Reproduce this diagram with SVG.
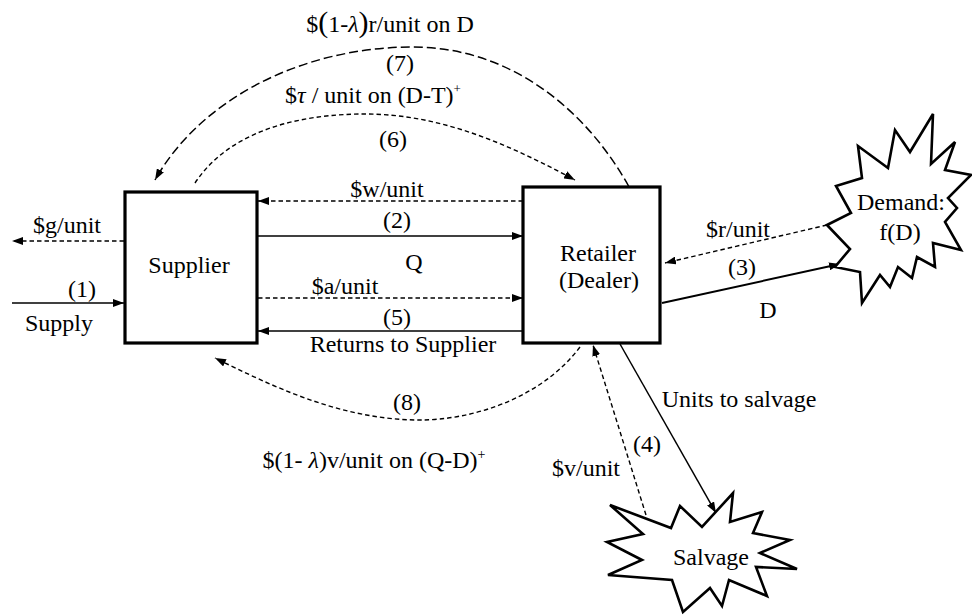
<svg xmlns="http://www.w3.org/2000/svg" width="972" height="615" viewBox="0 0 972 615">
<style>
text{font-family:"Liberation Serif","Times New Roman",serif;font-size:24px;fill:#000;text-anchor:middle}
.box{fill:#fff;stroke:#000;stroke-width:3.2}
.star{fill:#fff;stroke:#000;stroke-width:2.6;stroke-linejoin:miter}
.ln{fill:none;stroke:#000;stroke-width:1.5}
.ds{fill:none;stroke:#000;stroke-width:1.4;stroke-dasharray:4.5,3}
.dl{fill:none;stroke:#000;stroke-width:1.5;stroke-dasharray:9,4}
</style>
<defs>
<marker id="ah" viewBox="0 0 11 8" refX="11" refY="4" markerWidth="11" markerHeight="8" orient="auto" markerUnits="userSpaceOnUse">
<path d="M0,0 L11,4 L0,8 z" fill="#000"/>
</marker>
</defs>

<g id="connectors">
<path class="dl" d="M635,198 C590,110 510,46 410,47 C300,48 200,100 155,180" marker-end="url(#ah)"/>
<path class="ds" d="M195,183 C230,130 300,114 365,114 C445,114 515,148 575,180" marker-end="url(#ah)"/>
<path class="ds" d="M580,347 C540,400 470,420 420,420 C340,420 270,385 215,358" marker-end="url(#ah)"/>
<path class="ds" d="M523,201 L258,201" marker-end="url(#ah)"/>
<path class="ln" d="M258,236 L523,236" marker-end="url(#ah)"/>
<path class="ds" d="M258,298 L523,298" marker-end="url(#ah)"/>
<path class="ln" d="M523,331 L258,331" marker-end="url(#ah)"/>
<path class="ds" d="M124,241 L12,241" marker-end="url(#ah)"/>
<path class="ln" d="M12,303 L124,303" marker-end="url(#ah)"/>
<path class="ds" d="M827,225 L665,263" marker-end="url(#ah)"/>
<path class="ln" style="stroke-width:2" d="M662,303 L840,264" marker-end="url(#ah)"/>
<path class="ln" d="M620,344 L716,513" marker-end="url(#ah)"/>
<path class="ds" d="M646,515 L593,345" marker-end="url(#ah)"/>
</g>

<g id="supplier">
<rect class="box" x="125" y="192" width="132" height="151"/>
<text x="189" y="273">Supplier</text>
</g>

<g id="retailer">
<rect class="box" x="523" y="187" width="137" height="156"/>
<text x="598" y="261">Retailer</text>
<text x="599" y="288">(Dealer)</text>
</g>

<g id="demand">
<polygon class="star" points="827,225 851,213 836,186 862,178 858,146 888,168 895,130 910,152 933,114 931,164 955,142 945,170 971,175 948,198 957,208 945,222 961,250 933,243 935,267 917,257 912,278 898,267 890,287 880,275 862,303 860,272 835,267 850,249"/>
<text x="901" y="210">Demand:</text>
<text x="900" y="240">f(D)</text>
</g>

<g id="salvage">
<polygon class="star" points="610,505 671,528 680,506 702,527 733,493 730,522 762,512 753,533 790,540 760,553 797,569 756,567 767,596 729,580 722,606 710,588 683,612 672,580 608,575 642,560 607,542 643,534"/>
<text x="711" y="565">Salvage</text>
</g>

<g id="labels">
<text x="390" y="32">$<tspan font-size="30">(</tspan>1-<tspan font-style="italic">λ</tspan><tspan font-size="30">)</tspan>r/unit on D</text>
<text x="400" y="71">(7)</text>
<text x="373" y="103" font-size="22">$<tspan font-style="italic">τ</tspan> / unit on (D-T)<tspan font-size="13" dy="-10">+</tspan></text>
<text x="393" y="147">(6)</text>
<text x="387" y="197">$w/unit</text>
<text x="397" y="228">(2)</text>
<text x="414" y="270">Q</text>
<text x="345" y="294">$a/unit</text>
<text x="397" y="325">(5)</text>
<text x="403" y="352">Returns to Supplier</text>
<text x="67" y="233">$g/unit</text>
<text x="82" y="297">(1)</text>
<text x="59" y="331">Supply</text>
<text x="738" y="237">$r/unit</text>
<text x="742" y="275">(3)</text>
<text x="768" y="318">D</text>
<text x="739" y="407">Units to salvage</text>
<text x="647" y="452">(4)</text>
<text x="586" y="476">$v/unit</text>
<text x="407" y="410">(8)</text>
<text x="374" y="468">$(1- <tspan font-style="italic">λ</tspan>)v/unit on (Q-D)<tspan font-size="14" dy="-9">+</tspan></text>
</g>
</svg>
